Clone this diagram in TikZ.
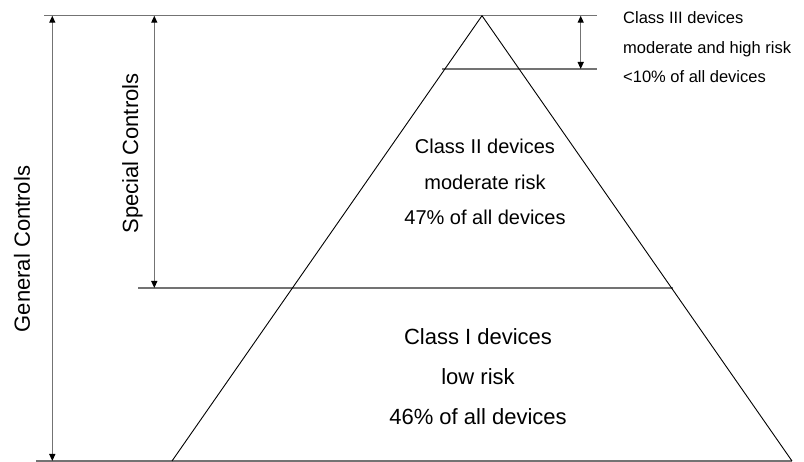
\documentclass[tikz,border=0pt]{standalone}
\usepackage{fontspec}
\setmainfont{Liberation Sans}
\usetikzlibrary{positioning,arrows.meta}

\tikzstyle{rule} = [draw, black!55, line width=1.3pt]
\tikzstyle{span} = [draw, black!55, line width=1.3pt,
{Triangle[length=7pt,width=6pt,black]}-{Triangle[length=7pt,width=6pt,black]}]
\tikzstyle{pyramid} = [draw, black, line width=0.9pt, line join=round]
\tikzstyle{classthree} = [font=\fontsize{16.5}{20}\selectfont]
\tikzstyle{classtwo} = [font=\fontsize{20}{24}\selectfont]
\tikzstyle{classone} = [font=\fontsize{22}{26}\selectfont]
\tikzstyle{ctrl} = [font=\fontsize{22}{26}\selectfont, rotate=90]

\begin{document}
\begin{tikzpicture}[x=1pt, y=-1pt, inner sep=0pt]
		\useasboundingbox (0,0) rectangle (804,462);
		% pyramid and level lines
		\coordinate (apex) at (482,15.7);
		\coordinate (baseL) at (172,461);
		\coordinate (baseR) at (792,461);
		\coordinate (topL) at (44,15.7);
		\coordinate (topR) at (597,15.7);
		\coordinate (botL) at (36,461);
		\coordinate (midL) at (138,288);
		\coordinate (midR) at (673,288);
		\coordinate (upL) at (442,69);
		\coordinate (upR) at (597,69);
		% arrow ends
		\coordinate (genT) at (52.3,15.7);
		\coordinate (genB) at (52.3,461);
		\coordinate (speT) at (154.3,15.7);
		\coordinate (speB) at (154.3,288);
		\coordinate (thrT) at (580.7,15.7);
		\coordinate (thrB) at (580.7,69);
		
		\path [rule] (topL) -- (topR);
		\path [rule] (botL) -- (baseR);
		\path [rule] (midL) -- (midR);
		\path [rule] (upL) -- (upR);
		\path [pyramid] (baseL) -- (apex) -- (baseR);
		
		\path [span] (genT) -- (genB);
		\path [span] (speT) -- (speB);
		\path [span] (thrT) -- (thrB);
		
		\node [ctrl] (general) at (22,249) {General Controls};
		\node [ctrl] (special) at (132.5,153.5) {Special Controls};
		
		\node [classthree, anchor=base west] (c3name) at (623,24) {Class III devices};
		\node [classthree, below=29.5pt of c3name.base west, anchor=base west] (c3risk) {moderate and high risk};
		\node [classthree, below=29.5pt of c3risk.base west, anchor=base west] (c3share) {<10\% of all devices};
		
		\node [classtwo, anchor=base] (c2name) at (485,154) {Class II devices};
		\node [classtwo, below=35.5pt of c2name.base, anchor=base] (c2risk) {moderate risk};
		\node [classtwo, below=35.5pt of c2risk.base, anchor=base] (c2share) {47\% of all devices};
		
		\node [classone, anchor=base] (c1name) at (478,345) {Class I devices};
		\node [classone, below=40pt of c1name.base, anchor=base] (c1risk) {low risk};
		\node [classone, below=40pt of c1risk.base, anchor=base] (c1share) {46\% of all devices};
	\end{tikzpicture}
\end{document}
